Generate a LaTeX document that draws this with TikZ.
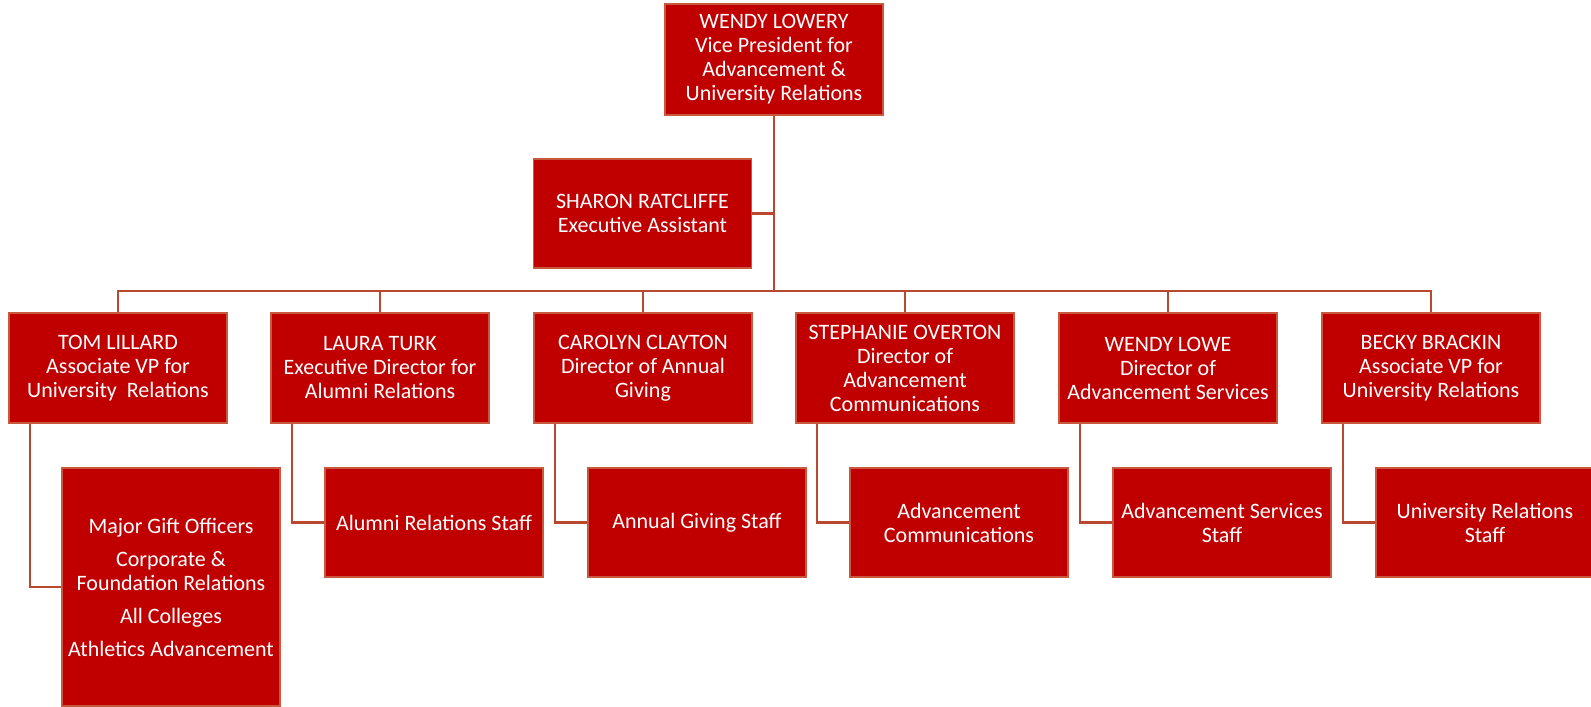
\documentclass[tikz,border=0pt]{standalone}
\usepackage{fontspec}
\setmainfont{Carlito}
\definecolor{boxfill}{HTML}{C00000}
\definecolor{boxline}{HTML}{C8583E}
\definecolor{conn}{HTML}{B8492F}
\begin{document}
\begin{tikzpicture}[x=1pt,y=-1pt,
  box/.style={draw=boxline, line width=1.5pt, fill=boxfill, text=white,
    minimum width=218pt, minimum height=110pt, inner sep=0pt, align=center,
    font=\fontsize{22}{24}\selectfont},
  conn/.style={draw=conn, line width=2.2pt}]
\useasboundingbox (0,0) rectangle (1591,707);
% top
\node[box, minimum height=111pt] (top) at (774,59.5) {WENDY LOWERY\\Vice President for\\Advancement \&\\University Relations};
\node[box, minimum height=109pt] (sharon) at (642.5,213.5) {SHARON RATCLIFFE\\Executive Assistant};
% level 2
\node[box] (t1) at (118,368) {TOM LILLARD\\Associate VP for\\University~~Relations};
\node[box] (t2) at (380,368) {LAURA TURK\\Executive Director for\\Alumni Relations};
\node[box] (t3) at (643,368) {CAROLYN CLAYTON\\Director of Annual\\Giving};
\node[box] (t4) at (905,368) {STEPHANIE OVERTON\\Director of\\Advancement\\Communications};
\node[box] (t5) at (1168,368) {WENDY LOWE\\Director of\\Advancement Services};
\node[box] (t6) at (1431,368) {BECKY BRACKIN\\Associate VP for\\University Relations};
% children
\node[box, minimum height=238pt] (c1) at (171,587) {Major Gift Officers\\[9pt]Corporate \&\\Foundation Relations\\[9pt]All Colleges\\[9pt]Athletics Advancement};
\node[box, minimum height=109pt] (c2) at (434,522.5) {Alumni Relations Staff};
\node[box, minimum height=109pt] (c3) at (697,522.5) {Annual Giving Staff};
\node[box, minimum height=109pt] (c4) at (959,522.5) {Advancement\\Communications};
\node[box, minimum height=109pt] (c5) at (1222,522.5) {Advancement Services\\Staff};
\node[box, minimum height=109pt] (c6) at (1485,522.5) {University Relations\\Staff};
% connectors
\coordinate (bar) at (774,291);
\draw[conn] (top.south) -- (bar);
\draw[conn] (sharon.east) -- (sharon.east -| top.south);
\draw[conn] (t1.north) -- (t1.north |- bar) -- (t6.north |- bar) -- (t6.north);
\foreach \i in {2,3,4,5}{\draw[conn] (t\i.north) -- (t\i.north |- bar);}
\foreach \i in {1,...,6}{\draw[conn] ([xshift=22pt]t\i.south west) |- (c\i.west);}
\end{tikzpicture}
\end{document}
